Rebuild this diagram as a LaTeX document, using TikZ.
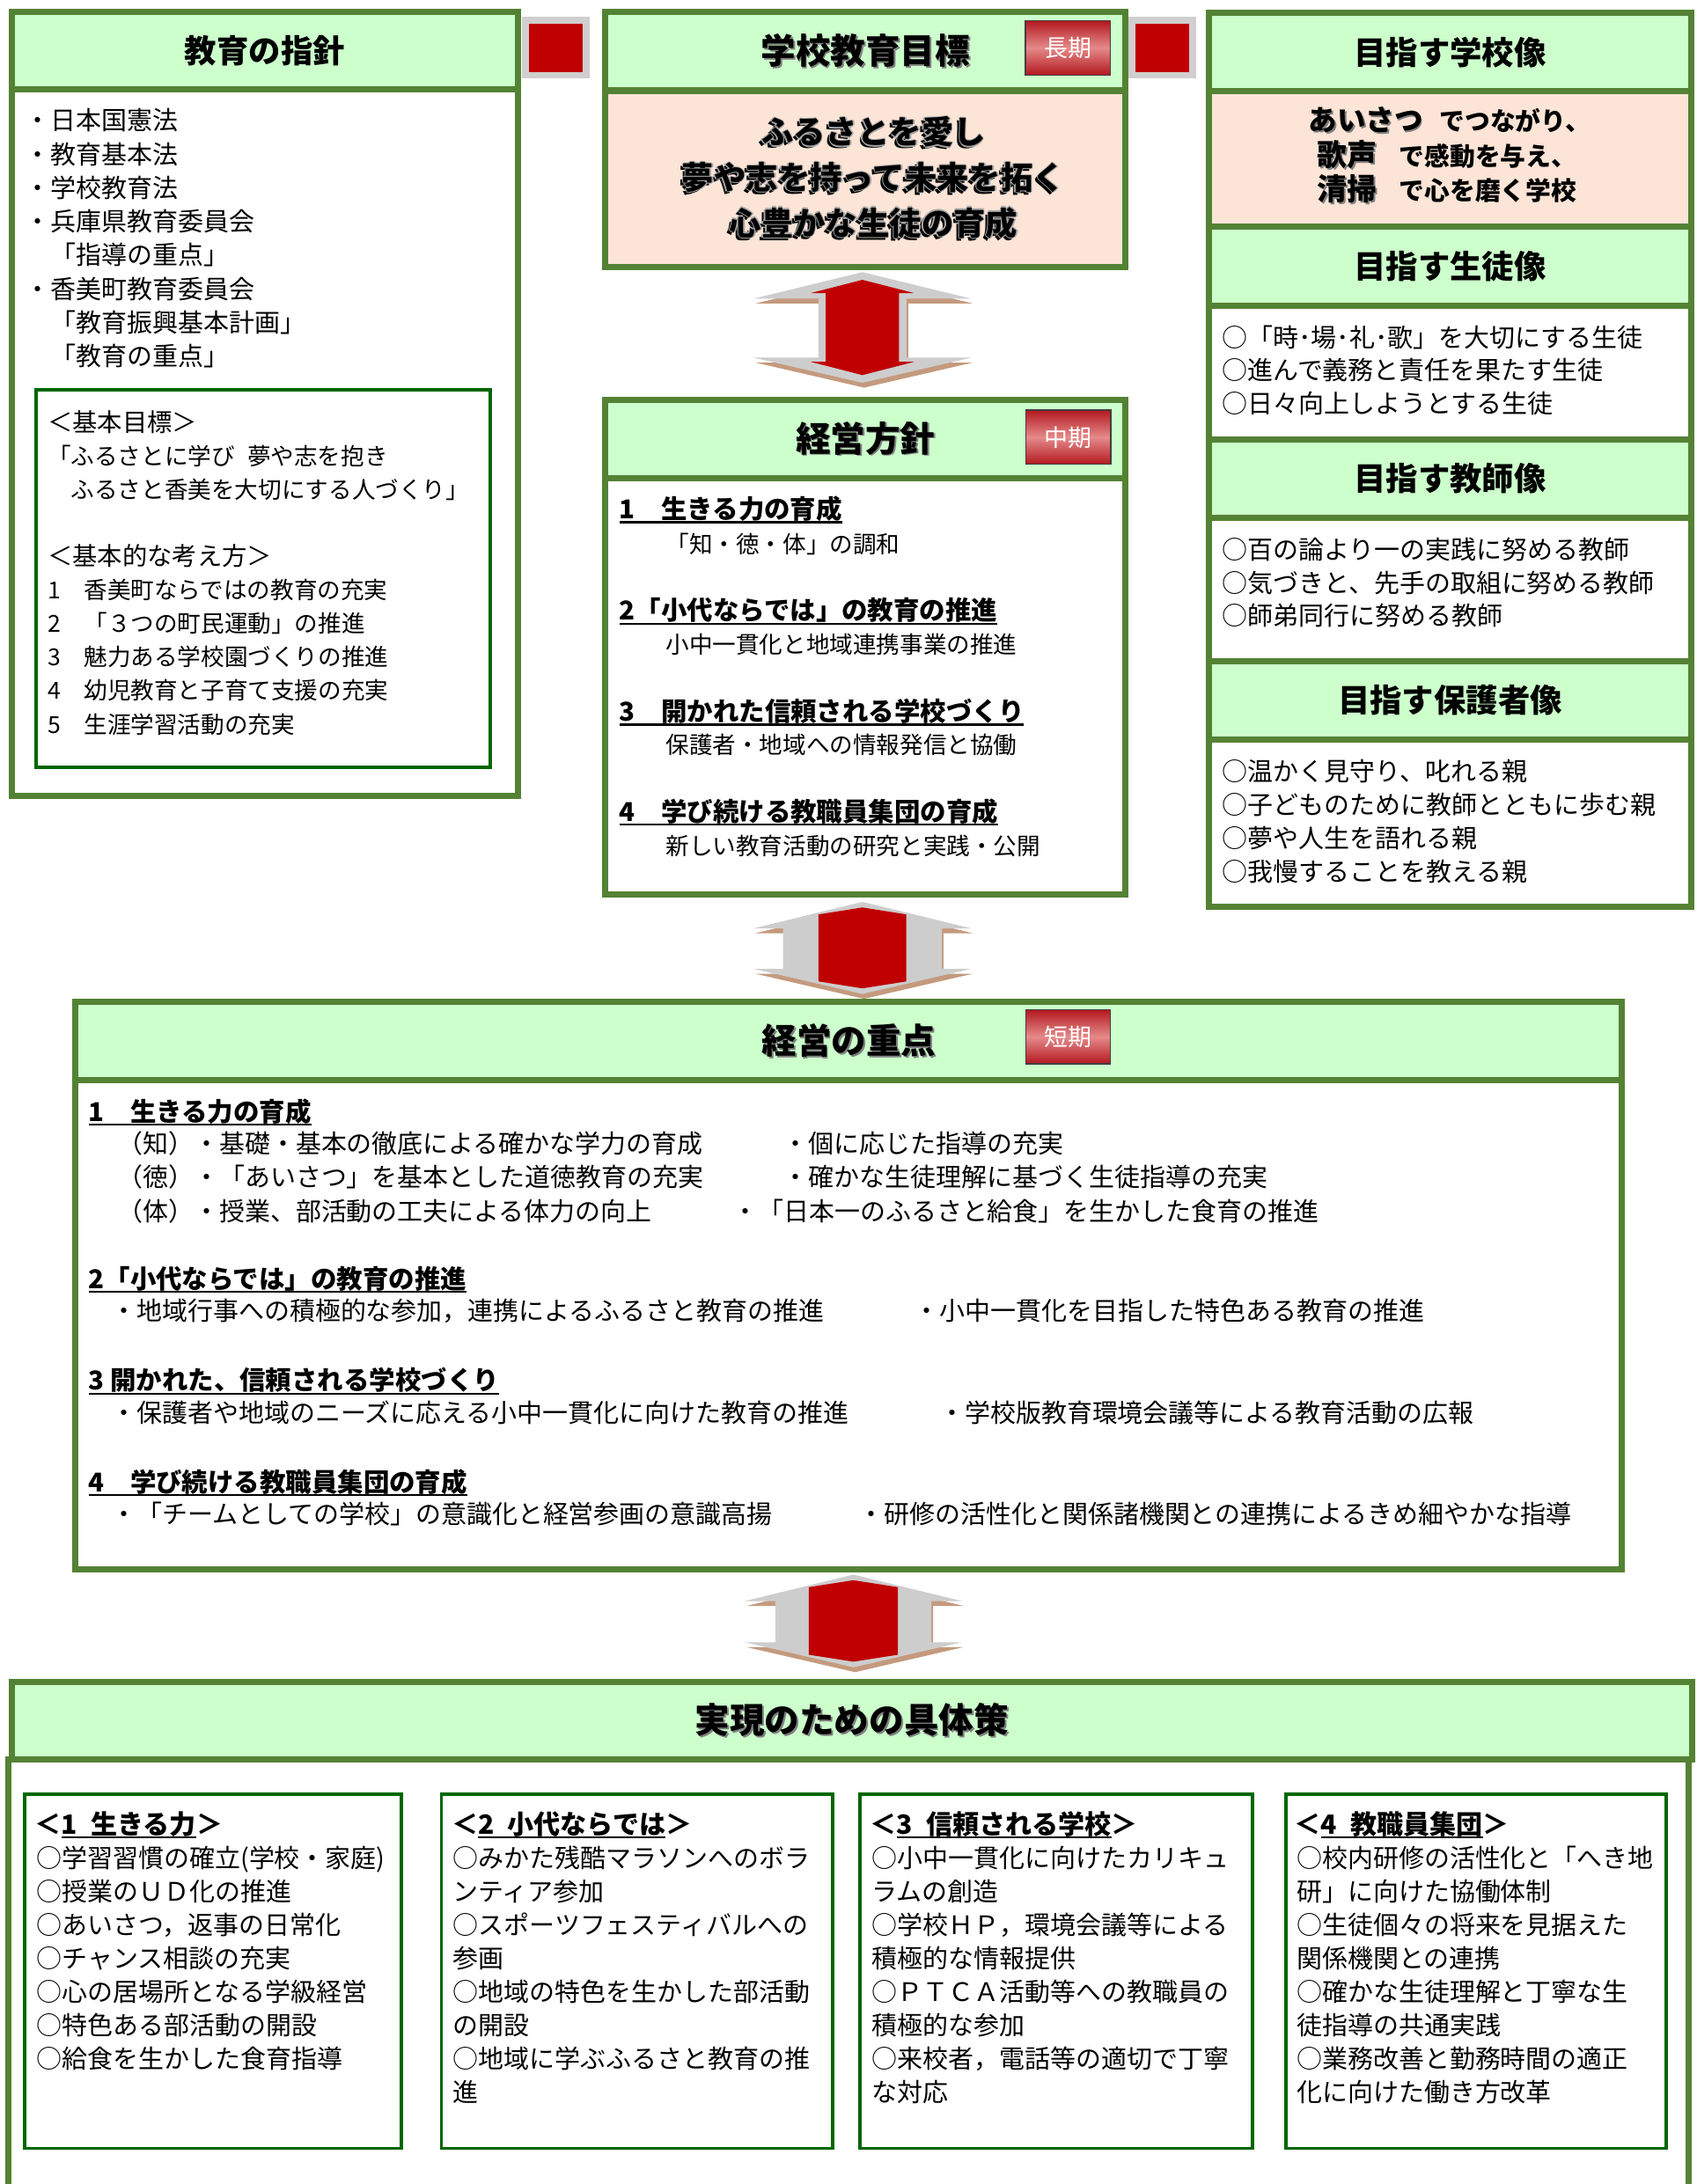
\documentclass[tikz,border=0pt]{standalone}
\usepackage{fontspec}
\setmainfont{Noto Sans CJK JP}

\definecolor{frame}{HTML}{548235}
\definecolor{headfill}{HTML}{CCFFCC}
\definecolor{peach}{HTML}{FCE4D6}
\definecolor{insetline}{HTML}{006600}
\definecolor{redmark}{HTML}{C00000}
\definecolor{markrim}{HTML}{D0CECE}
\definecolor{arrowgray}{HTML}{CDCDCD}
\definecolor{arrowtan}{HTML}{C49A7E}
\definecolor{badgedark}{HTML}{B3181E}
\definecolor{badgelight}{HTML}{E58A8A}

\newcommand{\setfs}[1]{\fontsize{#1}{#1}\selectfont}
\newcommand{\ulbox}[1]{\setbox0\hbox{#1}\rlap{\rule[-3.2pt]{\wd0}{1.4pt}}\box0}
\newcommand{\shadowed}[1]{\rlap{\kern1.2pt\raisebox{-1.2pt}{\textcolor{gray}{#1}}}#1}
\newcommand{\wordart}[1]{\rlap{\kern-2pt\raisebox{-2pt}{#1}}%
  \rlap{\kern-0.9pt\textcolor{gray!70}{#1}}\rlap{\kern0.9pt\textcolor{gray!70}{#1}}%
  \rlap{\raisebox{0.9pt}{\textcolor{gray!70}{#1}}}\rlap{\raisebox{-0.9pt}{\textcolor{gray!70}{#1}}}#1}

% big double arrow: centre x, top y, bottom y, grey shaft, red shaft, red head, red tip, red shoulder
\newcommand{\blockarrow}[8]{%
  \pgfmathsetmacro{\arrowlen}{#3-#2}%
  \foreach \dx/\dy/\col in {1.2/3.5/arrowtan, 0/0/arrowgray} {
    \fill[\col, shift={(#1+\dx,#2+\dy)}] (0,0) -- (78,19) -- (#4,19) -- (#4,\arrowlen-18)
      -- (78,\arrowlen-18) -- (0,\arrowlen) -- (-78,\arrowlen-18) -- (-#4,\arrowlen-18)
      -- (-#4,19) -- (-78,19) -- cycle;
  }
  \fill[redmark, shift={(#1,#2)}] (0,#7) -- (#6,#8) -- (#5,#8) -- (#5,\arrowlen-#8)
    -- (#6,\arrowlen-#8) -- (0,\arrowlen-#7) -- (-#6,\arrowlen-#8) -- (-#5,\arrowlen-#8)
    -- (-#5,#8) -- (-#6,#8) -- cycle;
}

\begin{document}
\begin{tikzpicture}[
    x=1pt, y=-1pt,
    head/.style={
        draw=frame,
        line width=4.5pt,
        fill=headfill,
        anchor=north west,
        inner sep=0pt,
        font=\bfseries\setfs{23}
    },
    panel/.style={
        draw=frame,
        line width=4.5pt,
        fill=white,
        anchor=north west,
        inner sep=0pt
    },
    inset/.style={
        draw=insetline,
        line width=2.4pt,
        fill=white,
        anchor=north west,
        inner sep=0pt
    },
    badge/.style={
        draw=black!75,
        line width=0.8pt,
        top color=badgedark,
        bottom color=badgedark,
        middle color=badgelight,
        text=white,
        minimum width=61pt,
        minimum height=39pt,
        inner sep=0pt,
        font=\setfs{17}
    },
    square/.style={
        fill=redmark,
        draw=markrim,
        line width=5pt,
        minimum width=43.5pt,
        minimum height=39.6pt,
        inner sep=0pt
    },
    txt/.style={anchor=base west, inner sep=0pt, font=\setfs{18.3}},
    smalltxt/.style={anchor=base west, inner sep=0pt, font=\setfs{16.8}},
    topic/.style={anchor=base west, inner sep=0pt, font=\bfseries\setfs{18.6}},
    label/.style={anchor=base west, inner sep=0pt, font=\setfs{17.9}}
]

\useasboundingbox (0,0) rectangle (1218,1568);
\fill[white] (0,0) rectangle (1218,1568);

% Left column
\node[panel, minimum width=363.1pt, minimum height=507.3pt] (guidebody) at (6.3,61.7) {};
\node[head, minimum width=363.1pt, minimum height=55.2pt] (guidehead) at (6.3,6.5) {教育の指針};
\foreach \entry [count=\k from 0] in {・日本国憲法, ・教育基本法, ・学校教育法, ・兵庫県教育委員会,
    　「指導の重点」, ・香美町教育委員会, 　「教育振興基本計画」, 　「教育の重点」}
  \node[txt] (guide-\k) at (18,93.3+24.21*\k) {\entry};

\node[inset, minimum width=326pt, minimum height=271.1pt] (basis) at (24.6,278.6) {};
\node[label] (basis-goal) at (34,310) {＜基本目標＞};
\node[smalltxt] (basis-goal-1) at (34,333.8) {「ふるさとに学び\hspace{9pt}夢や志を抱き};
\node[smalltxt] (basis-goal-2) at (34,358.1) {　ふるさと香美を大切にする人づくり」};
\node[label] (basis-idea) at (34,405.8) {＜基本的な考え方＞};
\foreach \entry [count=\k] in {香美町ならではの教育の充実, 「３つの町民運動」の推進,
    魅力ある学校園づくりの推進, 幼児教育と子育て支援の充実, 生涯学習活動の充実}
  \node[smalltxt] (basis-idea-\k) at (34,405.4+24.2*\k) {\k　\entry};

% Red squares
\node[square] (mark-left) at (398.8,34.2) {};
\node[square] (mark-right) at (834.3,34.2) {};

% Centre column
\node[panel, fill=peach, minimum width=373.7pt, minimum height=126.9pt] (goalbody) at (432,62.8) {};
\node[head, minimum width=373.7pt, minimum height=56.3pt] (goalhead) at (432,6.5) {\setfs{25}\shadowed{学校教育目標}};
\node[badge] (goal-term) at (766.5,34.3) {長期};
\foreach \entry [count=\k from 0] in {ふるさとを愛し, 夢や志を持って未来を拓く, 心豊かな生徒の育成}
  \node[anchor=base, inner sep=0pt, font=\bfseries\setfs{23}] (goal-\k) at (627,103.5+32.6*\k) {\wordart{\entry}};

\blockarrow{619}{195.4}{274.8}{31.6}{26.3}{37}{5.5}{15}

\node[panel, minimum width=373.7pt, minimum height=299pt] (policybody) at (432,341) {};
\node[head, minimum width=373.7pt, minimum height=56pt] (policyhead) at (432,285) {\setfs{25}\shadowed{経営方針}};
\node[badge] (policy-term) at (766.7,313.9) {中期};
\node[topic] (policy-1) at (444.5,372.5) {\ulbox{1　生きる力の育成}};
\node[smalltxt] (policy-1-sub) at (477.7,397.2) {「知・徳・体」の調和};
\node[topic] (policy-2) at (444.5,445.3) {\ulbox{2「小代ならでは」の教育の推進}};
\node[smalltxt] (policy-2-sub) at (477.7,469.1) {小中一貫化と地域連携事業の推進};
\node[topic] (policy-3) at (444.5,517.7) {\ulbox{3　開かれた信頼される学校づくり}};
\node[smalltxt] (policy-3-sub) at (477.7,541.4) {保護者・地域への情報発信と協働};
\node[topic] (policy-4) at (444.5,589.6) {\ulbox{4　学び続ける教職員集団の育成}};
\node[smalltxt] (policy-4-sub) at (477.7,613.7) {新しい教育活動の研究と実践・公開};

\blockarrow{619}{647.5}{713.6}{57}{31.5}{31.5}{4}{9}

% Focus box
\node[panel, minimum width=1110pt, minimum height=351.4pt] (focusbody) at (52,773.3) {};
\node[head, minimum width=1110pt, minimum height=56.3pt] (focushead) at (52,717) {\setfs{25}\shadowed{経営の重点}};
\node[badge] (focus-term) at (766.6,744.3) {短期};

\node[topic] (focus-1) at (63.4,805) {\ulbox{1　生きる力の育成}};
\node[txt] (focus-1-a) at (84,828) {（知）・基礎・基本の徹底による確かな学力の育成};
\node[txt] (focus-1-b) at (84,852.2) {（徳）・「あいさつ」を基本とした道徳教育の充実};
\node[txt] (focus-1-c) at (84,876.5) {（体）・授業、部活動の工夫による体力の向上};
\node[txt] (focus-1-d) at (562,828) {・個に応じた指導の充実};
\node[txt] (focus-1-e) at (562,852.2) {・確かな生徒理解に基づく生徒指導の充実};
\node[txt] (focus-1-f) at (525.6,876.5) {・「日本一のふるさと給食」を生かした食育の推進};

\node[topic] (focus-2) at (63.4,925.1) {\ulbox{2「小代ならでは」の教育の推進}};
\node[txt] (focus-2-a) at (79.6,948) {・地域行事への積極的な参加，連携によるふるさと教育の推進};
\node[txt] (focus-2-b) at (656,948) {・小中一貫化を目指した特色ある教育の推進};

\node[topic] (focus-3) at (63.4,998.1) {\ulbox{3 開かれた、信頼される学校づくり}};
\node[txt] (focus-3-a) at (79.6,1021) {・保護者や地域のニーズに応える小中一貫化に向けた教育の推進};
\node[txt] (focus-3-b) at (674,1021) {・学校版教育環境会議等による教育活動の広報};

\node[topic] (focus-4) at (63.4,1070.9) {\ulbox{4　学び続ける教職員集団の育成}};
\node[txt] (focus-4-a) at (79.6,1093.8) {・「チームとしての学校」の意識化と経営参画の意識高揚};
\node[txt] (focus-4-b) at (616,1093.8) {・研修の活性化と関係諸機関との連携によるきめ細やかな指導};

\blockarrow{612.5}{1130.5}{1197}{56}{32}{32}{4}{9}

% Plan box
\node[head, minimum width=1205.8pt, minimum height=55.5pt] (planhead) at (6.2,1205.5) {\setfs{25}\shadowed{実現のための具体策}};
\draw[frame, line width=4.5pt] (6.2,1261) -- (6.2,1568);
\draw[frame, line width=4.5pt] (1212,1261) -- (1212,1568);

\node[inset, minimum width=270.1pt, minimum height=254.4pt] (plan-1) at (16.7,1286.8) {};
\node[inset, minimum width=280.7pt, minimum height=254.4pt] (plan-2) at (315.6,1286.8) {};
\node[inset, minimum width=281.6pt, minimum height=254.4pt] (plan-3) at (616.2,1286.8) {};
\node[inset, minimum width=273.2pt, minimum height=254.4pt] (plan-4) at (921.6,1286.8) {};

\node[topic, font=\bfseries\setfs{19}] (plan-1-title) at (25,1316.8) {＜\ulbox{1\hspace{0.5em}生きる力}＞};
\node[topic, font=\bfseries\setfs{19}] (plan-2-title) at (324,1316.8) {＜\ulbox{2\hspace{0.5em}小代ならでは}＞};
\node[topic, font=\bfseries\setfs{19}] (plan-3-title) at (624.5,1316.8) {＜\ulbox{3\hspace{0.5em}信頼される学校}＞};
\node[topic, font=\bfseries\setfs{19}] (plan-4-title) at (929,1316.8) {＜\ulbox{4\hspace{0.5em}教職員集団}＞};

\foreach \entry [count=\k from 0] in {○学習習慣の確立(学校・家庭), ○授業のＵＤ化の推進, ○あいさつ，返事の日常化,
    ○チャンス相談の充実, ○心の居場所となる学級経営, ○特色ある部活動の開設, ○給食を生かした食育指導}
  \node[txt] (plan-1-\k) at (26,1340.6+24.05*\k) {\entry};
\foreach \entry [count=\k from 0] in {○みかた残酷マラソンへのボラ, ンティア参加, ○スポーツフェスティバルへの, 参画,
    ○地域の特色を生かした部活動, の開設, ○地域に学ぶふるさと教育の推, 進}
  \node[txt] (plan-2-\k) at (325,1340.6+24.05*\k) {\entry};
\foreach \entry [count=\k from 0] in {○小中一貫化に向けたカリキュ, ラムの創造, ○学校ＨＰ，環境会議等による, 積極的な情報提供,
    ○ＰＴＣＡ活動等への教職員の, 積極的な参加, ○来校者，電話等の適切で丁寧, な対応}
  \node[txt] (plan-3-\k) at (625.5,1340.6+24.05*\k) {\entry};
\foreach \entry [count=\k from 0] in {○校内研修の活性化と「へき地, 研」に向けた協働体制, ○生徒個々の将来を見据えた, 関係機関との連携,
    ○確かな生徒理解と丁寧な生, 徒指導の共通実践, ○業務改善と勤務時間の適正, 化に向けた働き方改革}
  \node[txt] (plan-4-\k) at (930.5,1340.6+24.05*\k) {\entry};

% Right column
\node[head, minimum width=345.9pt, minimum height=56.4pt] (schoolhead) at (865.6,7) {目指す学校像};
\node[panel, fill=peach, minimum width=345.9pt, minimum height=96.9pt] (schoolbody) at (865.6,63.4) {};
\node[topic, font=\bfseries\setfs{18.2}] (school-1) at (939,94) {{\setfs{20.5}\shadowed{あいさつ}}\hspace{12pt}でつながり、};
\node[topic, font=\bfseries\setfs{18.2}] (school-2) at (945,119.3) {{\setfs{21.5}\shadowed{歌声}}\hspace{16pt}で感動を与え、};
\node[topic, font=\bfseries\setfs{18.2}] (school-3) at (945,143.5) {{\setfs{21.5}\shadowed{清掃}}\hspace{16pt}で心を磨く学校};

\node[head, minimum width=345.9pt, minimum height=56.9pt] (studenthead) at (865.6,160.3) {目指す生徒像};
\node[panel, minimum width=345.9pt, minimum height=96.3pt] (studentbody) at (865.6,217.2) {};
\foreach \entry [count=\k from 0] in {○「時･場･礼･歌」を大切にする生徒, ○進んで義務と責任を果たす生徒, ○日々向上しようとする生徒}
  \node[txt] (student-\k) at (877,249.2+23.65*\k) {\entry};

\node[head, minimum width=345.9pt, minimum height=56pt] (teacherhead) at (865.6,313.5) {目指す教師像};
\node[panel, minimum width=345.9pt, minimum height=102.8pt] (teacherbody) at (865.6,369.5) {};
\foreach \entry [count=\k from 0] in {○百の論より一の実践に努める教師, ○気づきと、先手の取組に努める教師, ○師弟同行に努める教師}
  \node[txt] (teacher-\k) at (877,401.6+23.7*\k) {\entry};

\node[head, minimum width=345.9pt, minimum height=56.7pt] (parenthead) at (865.6,472.3) {目指す保護者像};
\node[panel, minimum width=345.9pt, minimum height=120pt] (parentbody) at (865.6,529) {};
\foreach \entry [count=\k from 0] in {○温かく見守り、叱れる親, ○子どものために教師とともに歩む親, ○夢や人生を語れる親, ○我慢することを教える親}
  \node[txt] (parent-\k) at (877,560.6+24.07*\k) {\entry};

\end{tikzpicture}
\end{document}
